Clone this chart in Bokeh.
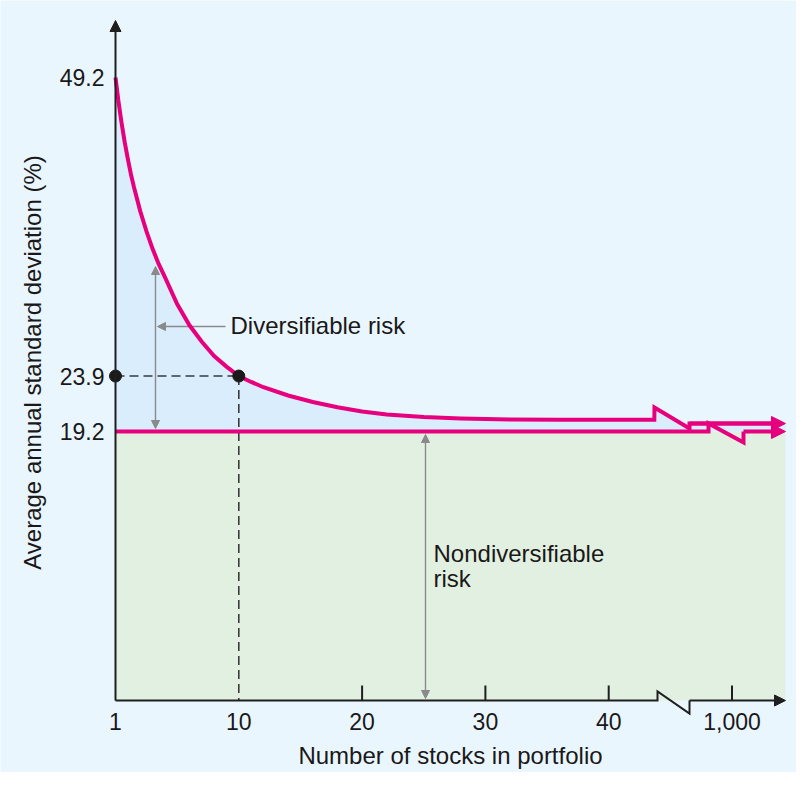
import numpy as np
from bokeh.plotting import figure
from bokeh.models import Arrow, NormalHead, Label, FixedTicker, Range1d
from bokeh.embed import file_html
from bokeh.resources import INLINE

# ---------------- data ----------------
# x position on the axis (0 = 1 stock, 10 = 10 stocks, ... 50 = 1,000 stocks)
stocks_pos = [0, 0.25, 0.5, 0.75, 1, 1.25, 1.5, 2, 2.5, 3, 3.5, 4, 5, 6, 7, 8,
              9, 10, 11, 12, 14, 16, 18, 20, 22, 25, 28, 32, 36, 40, 43.7]
std_dev = [49.2, 47.1, 45.3, 43.7, 42.3, 41.0, 39.9, 37.9, 36.2, 34.7, 33.4,
           32.3, 30.0, 28.2, 26.8, 25.6, 24.7, 23.9, 23.4, 22.95, 22.25, 21.7,
           21.25, 20.9, 20.65, 20.42, 20.3, 20.22, 20.2, 20.2, 20.2]
x_ticks = [0, 10, 20, 30, 40, 50]
x_tick_labels = ["1", "10", "20", "30", "40", "1,000"]
x_tick_marks = [20, 30, 40, 50]
y_ticks = [19.2, 23.9, 49.2]
y_tick_labels = ["19.2", "23.9", "49.2"]
nondiv_level = 19.2
after_break_level = 19.88
marked_x = [0, 10]
marked_y = [23.9, 23.9]

# ---------------- layout helpers ----------------
W, H, OFF = 796, 772, 0
X0_PX, PX_PER_X = 115.0, 12.33
Y_REF_PX, Y_REF_V, PX_PER_Y = 77.0, 49.2, 11.8


def px2x(px):
    return (px - X0_PX) / PX_PER_X


def py2y(py):
    return Y_REF_V - (py - Y_REF_PX) / PX_PER_Y


BG = "#eaf6fe"
BLUE = "#d9edfc"
GREEN = "#e2f0e1"
PINK = "#e6007e"
AX = "#1f1f1f"
GRAY = "#8a8a8a"
TXT = "#1a1818"
FONT = "Liberation Sans"

p = figure(width=W, height=H, output_backend="svg", toolbar_location=None,
           x_range=Range1d(px2x(OFF), px2x(OFF + W)),
           y_range=Range1d(py2y(OFF + H), py2y(OFF)),
           min_border=0)
p.background_fill_color = BG
p.border_fill_color = BG
p.outline_line_color = None
p.grid.visible = False

axis_y = py2y(700)
tip_x = px2x(785)
tip_y = py2y(20)

# axes (fixed inside the frame)
xa = p.xaxis[0]
xa.fixed_location = axis_y
xa.ticker = FixedTicker(ticks=x_ticks)
xa.major_label_overrides = {t: l for t, l in zip(x_ticks, x_tick_labels)}
ya = p.yaxis[0]
ya.fixed_location = 0
ya.ticker = FixedTicker(ticks=y_ticks)
ya.major_label_overrides = {t: l for t, l in zip(y_ticks, y_tick_labels)}
for a in (xa, ya):
    a.axis_line_color = None
    a.major_tick_line_color = None
    a.minor_tick_line_color = None
    a.major_tick_in = 0
    a.major_tick_out = 0
    a.major_label_text_font = FONT
    a.major_label_text_font_size = "23px"
    a.major_label_text_color = TXT
    a.major_label_text_font_style = "normal"
xa.major_label_standoff = 12
ya.major_label_standoff = 11

# ---------------- fills ----------------
g = p.quad(left=0, right=tip_x, bottom=axis_y, top=nondiv_level,
           fill_color=GREEN, line_color=None)
g.level = "image"

bx1, by_up, bx2, by_dn = px2x(654), py2y(407), px2x(689), py2y(428)
upper_x = list(stocks_pos) + [bx1, bx2, bx2, tip_x]
upper_y = list(std_dev) + [by_up, by_dn, after_break_level, after_break_level]
poly_x = upper_x + [tip_x, 0]
poly_y = upper_y + [nondiv_level, nondiv_level]
b = p.patch(poly_x, poly_y, fill_color=BLUE, line_color=None)
b.level = "image"

# ---------------- dashed guides ----------------
p.line(marked_x, marked_y, line_color="#3a3a3a", line_width=1.6, line_dash="9 5")
p.line([marked_x[1], marked_x[1]], [marked_y[1], axis_y], line_color="#3a3a3a",
       line_width=1.6, line_dash="9 5")

# ---------------- gray arrows ----------------
def garrow(x0, y0, x1, y1, both=False):
    head = dict(size=8, fill_color=GRAY, line_color=GRAY, line_width=1)
    a = Arrow(end=NormalHead(**head), start=NormalHead(**head) if both else None,
              x_start=x0, y_start=y0, x_end=x1, y_end=y1,
              line_color=GRAY, line_width=1.4, level="underlay")
    p.add_layout(a)

garrow(px2x(155), py2y(266), px2x(155), py2y(428), both=True)
garrow(px2x(225), py2y(326), px2x(157), py2y(326))
garrow(px2x(425), py2y(434), px2x(425), py2y(698), both=True)

# ---------------- pink curve & floor ----------------
p.line(upper_x[:-1] + [px2x(776)], upper_y[:-1] + [after_break_level],
       line_color=PINK, line_width=4, line_join="miter")
lx1, lx2 = px2x(708), px2x(743)
lower_x = [0, lx1, lx1, lx2, lx2]
lower_y = [nondiv_level, nondiv_level, after_break_level, py2y(442), nondiv_level]
p.line(lower_x, lower_y, line_color=PINK, line_width=4, line_join="miter")
for yy, x0 in ((after_break_level, bx2), (nondiv_level, lx2)):
    p.add_layout(Arrow(end=NormalHead(size=14, fill_color=PINK, line_color=PINK,
                                      line_width=1),
                       x_start=x0, y_start=yy, x_end=tip_x, y_end=yy,
                       line_color=PINK, line_width=4))

# ---------------- axis lines ----------------
ax1, ax2 = px2x(657), px2x(689)
p.line([0, ax1, ax1, ax2, ax2], [axis_y, axis_y, py2y(691), py2y(713), axis_y],
       line_color=AX, line_width=2, line_join="miter")
p.add_layout(Arrow(end=NormalHead(size=11, fill_color=AX, line_color=AX, line_width=1),
                   x_start=ax2, y_start=axis_y, x_end=tip_x, y_end=axis_y,
                   line_color=AX, line_width=2))
p.add_layout(Arrow(end=NormalHead(size=11, fill_color=AX, line_color=AX, line_width=1),
                   x_start=0, y_start=axis_y, x_end=0, y_end=tip_y,
                   line_color=AX, line_width=2))
p.segment(x0=x_tick_marks, y0=[axis_y] * len(x_tick_marks), x1=x_tick_marks,
          y1=[py2y(685)] * len(x_tick_marks), line_color=AX, line_width=2)

# ---------------- marked points ----------------
p.scatter(marked_x, marked_y, size=12, fill_color="#1a1a1a", line_color="#1a1a1a")

# ---------------- text ----------------
def lab(x, y, text, **kw):
    d = dict(text_font=FONT, text_font_size="24px", text_color=TXT)
    d.update(kw)
    p.add_layout(Label(x=x, y=y, text=text, **d))

lab(px2x(32), py2y(362), "Average annual standard deviation (%)", angle=np.pi / 2,
    text_align="center", text_baseline="middle")
lab(px2x(450), py2y(755), "Number of stocks in portfolio", text_align="center",
    text_baseline="alphabetic")
lab(px2x(230), py2y(325), "Diversifiable risk", text_align="left",
    text_baseline="alphabetic")
lab(px2x(433), py2y(553), "Nondiversifiable", text_align="left",
    text_baseline="alphabetic")
lab(px2x(433), py2y(578), "risk", text_align="left", text_baseline="alphabetic")

open("out.html", "w").write(file_html(p, INLINE))
